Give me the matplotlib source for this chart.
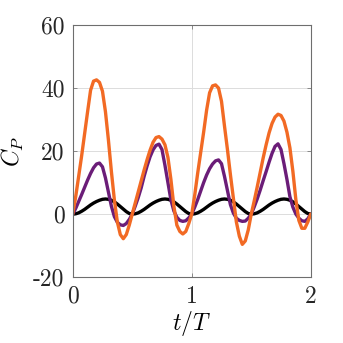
import numpy as np
import matplotlib
matplotlib.use("Agg")
import matplotlib.pyplot as plt

plt.rcParams['mathtext.fontset'] = 'cm'

# time axis, t/T
t = np.linspace(0, 2, 81)

# C_P, every 0.025 in t/T
cp_black = [0.0, 0.1, 0.4, 0.9, 1.5, 2.2, 2.9, 3.5, 4.0, 4.4, 4.7, 4.8, 4.7, 4.4, 3.9, 3.2, 2.4, 1.6, 0.8, 0.2,
            0.0, 0.1, 0.4, 0.9, 1.5, 2.2, 2.9, 3.5, 4.0, 4.4, 4.7, 4.8, 4.7, 4.4, 3.9, 3.2, 2.4, 1.6, 0.8, 0.2,
            0.0, 0.1, 0.4, 0.9, 1.5, 2.2, 2.9, 3.5, 4.0, 4.4, 4.7, 4.8, 4.7, 4.4, 3.9, 3.2, 2.4, 1.6, 0.8, 0.2,
            0.0, 0.1, 0.4, 0.9, 1.5, 2.2, 2.9, 3.5, 4.0, 4.4, 4.7, 4.8, 4.7, 4.4, 3.9, 3.2, 2.4, 1.6, 0.8, 0.2,
            0.0]

cp_purple = [0.0, 1.8, 4.0, 6.2, 8.5, 10.8, 12.9, 14.7, 15.9, 16.2, 15.0, 11.5, 7.0, 2.5, -0.8, -2.6, -3.4, -3.6, -3.0, -1.7,
             0.0, 2.5, 5.2, 8.3, 12.0, 15.3, 18.2, 20.4, 21.8, 22.2, 20.5, 15.5, 10.0, 4.5, 1.0, -1.0, -2.0, -2.3, -2.1, -1.2,
             0.0, 2.2, 4.6, 7.3, 10.0, 12.4, 14.4, 15.9, 16.9, 17.2, 16.0, 12.0, 7.5, 3.0, 0.3, -1.3, -2.0, -2.3, -2.2, -1.3,
             0.0, 2.3, 4.8, 7.6, 10.6, 13.5, 16.5, 19.3, 21.5, 22.3, 20.5, 16.0, 11.0, 5.5, 2.2, 0.0, -1.3, -2.1, -2.3, -1.5,
             0.0]

cp_orange = [0.0, 5.5, 12.0, 18.5, 25.5, 32.5, 39.3, 42.2, 42.6, 41.8, 39.0, 32.5, 23.5, 13.5, 4.5, -2.5, -6.5, -7.8, -6.5, -3.5,
             0.0, 3.5, 7.0, 10.5, 14.0, 17.3, 20.3, 22.8, 24.3, 24.6, 23.8, 22.0, 18.0, 11.0, 2.5, -3.5, -5.5, -6.3, -5.5, -3.0,
             0.0, 6.0, 13.0, 19.5, 26.0, 33.0, 38.5, 40.7, 41.0, 40.0, 35.8, 28.0, 20.5, 12.5, 5.0, -2.5, -7.0, -9.6, -8.5, -5.0,
             0.0, 4.2, 8.6, 13.2, 17.8, 22.0, 25.8, 28.8, 30.8, 31.7, 31.3, 29.5, 26.0, 21.0, 13.5, 4.5, -2.0, -4.5, -4.5, -2.5,
             0.0]

xticks = [0, 1, 2]
yticks = [-20, 0, 20, 40, 60]

fig = plt.figure(figsize=(3.43, 3.43), dpi=100)
ax = fig.add_axes([0.212, 0.192, 0.694, 0.735])

for cp, col in [(cp_black, 'black'), (cp_purple, '#6b1d78'), (cp_orange, '#f26a24')]:
    ax.plot(t, cp, color=col, lw=2.4, solid_joinstyle='round', solid_capstyle='round')

ax.set_xlim(0, 2)
ax.set_ylim(-20, 60)
ax.set_xticks(xticks)
ax.set_yticks(yticks)
ax.set_xticklabels([str(v) for v in xticks], fontfamily='cmr10', fontsize=17)
ax.set_yticklabels([str(v) for v in yticks], fontfamily='cmr10', fontsize=17)
ax.tick_params(direction='in', length=3, width=0.6, color='#7a7a7a',
               labelcolor='#262626', top=True, right=True, pad=6)
ax.grid(True, color='#dcdcdc', lw=0.7)
for s in ax.spines.values():
    s.set_color('#6e6e6e')
    s.set_linewidth(0.8)

ax.set_xlabel(r'$t/T$', fontsize=17, labelpad=1)
ax.set_ylabel(r'$C_P$', fontsize=17, labelpad=5)

fig.savefig('out.png', dpi=100)
